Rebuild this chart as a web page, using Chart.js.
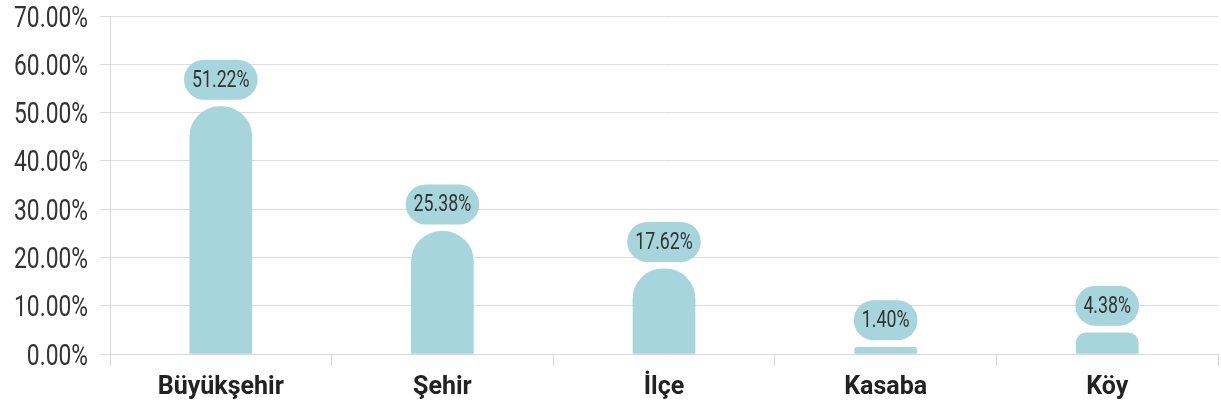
<!DOCTYPE html>
<html>
<head>
<meta charset="utf-8">
<script src="https://cdn.jsdelivr.net/npm/chart.js@4/dist/chart.umd.min.js"></script>
<style>
  html, body { margin: 0; padding: 0; background: #fff; }
  #wrap { width: 1221px; height: 410px; }
</style>
</head>
<body>
<div id="wrap"><canvas id="myChart"></canvas></div>
<script>
let labels = ['Büyükşehir', 'Şehir', 'İlçe', 'Kasaba', 'Köy'];
let values = [51.22, 25.38, 17.62, 1.40, 4.38];
let yTicks = [0, 10, 20, 30, 40, 50, 60, 70];
let barColor = '#A6D5DC';

// draw narrow (horizontally squeezed) text, no condensed font is installed
function narrowText(ctx, txt, x, y, squeeze) {
  ctx.save();
  ctx.translate(x, y);
  ctx.scale(squeeze, 1);
  ctx.fillText(txt, 0, 0);
  ctx.restore();
}

let customText = {
  id: 'customText',
  afterDraw(chart) {
    let ctx = chart.ctx;
    let yScale = chart.scales.y;
    ctx.save();
    // y tick labels
    ctx.font = '400 30px Roboto';
    ctx.fillStyle = '#333';
    ctx.textAlign = 'right';
    ctx.textBaseline = 'middle';
    yTicks.forEach(t => {
      narrowText(ctx, t.toFixed(2) + '%', 88, yScale.getPixelForValue(t) + 3, 0.76);
    });
    // pill labels above bars
    let meta = chart.getDatasetMeta(0);
    ctx.font = '400 24px Roboto';
    ctx.textAlign = 'center';
    meta.data.forEach((bar, i) => {
      let txt = values[i].toFixed(2) + '%';
      let w = ctx.measureText(txt).width * 0.74 + 16;
      let h = 40;
      let bottom = bar.y - 7;
      ctx.fillStyle = barColor;
      ctx.beginPath();
      ctx.roundRect(bar.x - w / 2, bottom - h, w, h, 20);
      ctx.fill();
      ctx.fillStyle = '#333';
      narrowText(ctx, txt, bar.x, bottom - h / 2 + 1, 0.74);
    });
    ctx.restore();
  }
};

let ctx = document.getElementById('myChart').getContext('2d');
let myChart = new Chart(ctx, {
  type: 'bar',
  data: {
    labels: labels,
    datasets: [{
      data: values,
      backgroundColor: barColor,
      borderRadius: 30,
      borderSkipped: 'bottom',
      barThickness: 62,
    }]
  },
  options: {
    responsive: true,
    maintainAspectRatio: false,
    animation: false,
    layout: { padding: { top: 16, right: 3, left: 0, bottom: 0 } },
    plugins: {
      legend: { display: false },
      tooltip: { enabled: false }
    },
    scales: {
      x: {
        grid: { drawOnChartArea: false, color: '#d9d9d9', tickLength: 12 },
        border: { color: '#d9d9d9' },
        ticks: { color: '#222', font: { family: 'Roboto', size: 25, weight: 'bold' }, padding: 7 },
        afterFit: (s) => { s.height = 56; }
      },
      y: {
        min: 0,
        max: 70,
        grid: { color: '#dcdcdc', tickLength: 10 },
        border: { color: '#d9d9d9' },
        ticks: { stepSize: 10, display: false },
        afterFit: (s) => { s.width = 110; }
      }
    }
  },
  plugins: [customText]
});
</script>
</body>
</html>
